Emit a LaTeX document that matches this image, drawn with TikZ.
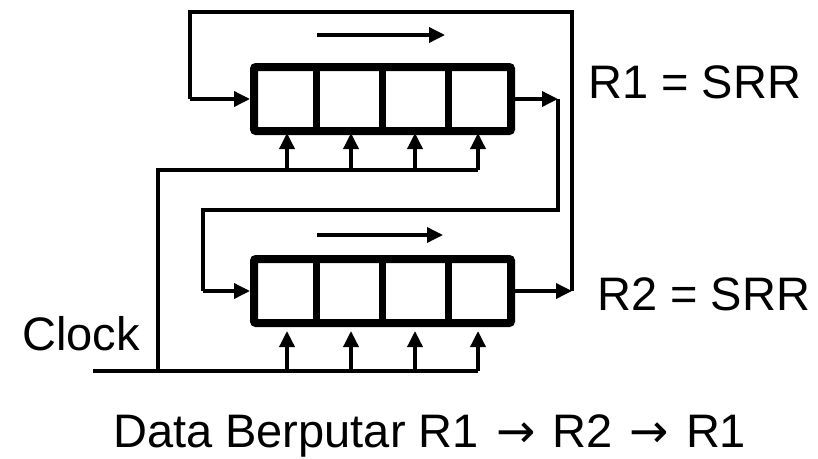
\documentclass[tikz,border=0pt]{standalone}
\usepackage{fontspec}
\setmainfont{Liberation Sans}
\newfontfamily\arrowfont{DejaVu Sans}
\usetikzlibrary{arrows.meta,calc}
\tikzset{
  wire/.style={line width=3.5pt},
  arr/.style={wire,-{Triangle[length=16pt,width=15pt]}},
  reg/.style={draw,line width=8pt,rounded corners=2pt,minimum width=257pt,minimum height=64pt,inner sep=0pt},
  cellsep/.style={line width=7pt},
  lbl/.style={anchor=base west,inner sep=0pt,font=\fontsize{47}{56}\selectfont}
}
\newcommand{\rarr}{\kern4pt{\arrowfont →}\kern4pt}
\begin{document}
\begin{tikzpicture}[x=1pt,y=-1pt]
\useasboundingbox (0,0) rectangle (818,458);
% registers
\node[reg] (r1) at (382.5,99) {};
\node[reg] (r2) at (382.5,291) {};
\foreach \r in {r1,r2}{
  \foreach \f in {0.25,0.5,0.75}{
    \draw[cellsep] ($(\r.north west)!\f!(\r.north east)$) -- ($(\r.south west)!\f!(\r.south east)$);
  }
}
% shift direction arrows
\coordinate (s1a) at (317,35); \coordinate (s1b) at (445,35);
\coordinate (s2a) at (317,235); \coordinate (s2b) at (443,235);
\draw[arr] (s1a) -- (s1b);
\draw[arr] (s2a) -- (s2b);
% R1 output -> R2 input
\coordinate (o1) at (558,99);
\coordinate (c1) at (558,210);
\coordinate (c2) at (203,210);
\coordinate (c3) at (203,291);
\draw[arr] (r1.east) -- (o1);
\draw[wire] (o1) -- (c1) -- (c2) -- (c3);
\draw[arr] (c3) -- (r2.west);
% R2 output -> R1 input
\coordinate (o2) at (572,291);
\coordinate (d1) at (572,12);
\coordinate (d2) at (190,12);
\coordinate (d3) at (190,99);
\draw[arr] (r2.east) -- (o2);
\draw[wire] (o2) -- (d1) -- (d2) -- (d3);
\draw[arr] (d3) -- (r1.west);
% clock
\coordinate (k0) at (93,371);
\coordinate (k1) at (158,371);
\coordinate (k2) at (158,170);
\coordinate (k3) at (478,170);
\coordinate (k4) at (478,371);
\draw[wire] (k0) -- (k4);
\draw[wire] (k1) -- (k2) -- (k3);
\foreach \x in {287,351,415,478}{
  \draw[arr] (\x,170) -- (\x,133);
  \draw[arr] (\x,371) -- (\x,331);
}
% labels
\node[lbl] (l1) at (588,98) {R1 = SRR};
\node[lbl] (l2) at (597,310) {R2 = SRR};
\node[lbl] (lc) at (22,350) {Clock};
\node[lbl] (lb) at (113,447.5) {Data Berputar R1 \rarr\ R2 \rarr\ R1};
\end{tikzpicture}
\end{document}
